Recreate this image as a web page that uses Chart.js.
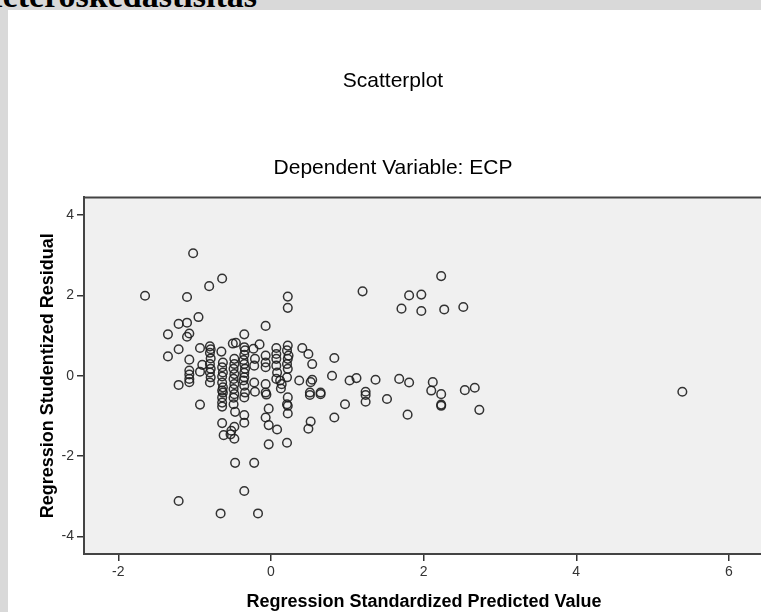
<!DOCTYPE html>
<html>
<head>
<meta charset="utf-8">
<script src="https://cdn.jsdelivr.net/npm/chart.js@4.4.1/dist/chart.umd.min.js"></script>
<style>
  html, body { margin: 0; padding: 0; width: 761px; height: 612px; overflow: hidden; background: #d9d9d9; position: relative; }
  #heading { position: absolute; right: 504px; top: -21px; font: bold 34px "Liberation Serif", "Times New Roman", serif; line-height: 34px; white-space: nowrap; color: #000; }
  #panel { position: absolute; left: 8px; top: 10px; width: 800px; height: 700px; background: #fff; }
  #c { position: absolute; left: 0; top: 0; }
</style>
</head>
<body>
<div id="heading">Hasil Uji Heteroskedastisitas</div>
<div id="panel"></div>
<canvas id="c" width="786" height="613"></canvas>
<script>
// Regression residual scatter (SPSS style)

const predicted = [
  -1.65, -1.02, -1.10, -0.81, -0.64, -0.95, -1.21, -1.10, -1.35, -1.10, -1.07, -0.35, -0.07, 0.22, 0.22, 1.20, 2.23, 1.81, 1.97, 1.71, 1.97, 2.27, 2.52,
  -1.21, -1.35, -1.07, -0.93, -1.21, -1.07, -1.07, -1.07, -1.07, -0.90, -0.93, -0.93,
  -0.80, -0.79, -0.80, -0.79, -0.80, -0.79, -0.80, -0.79, -0.80,
  -0.65, -0.63, -0.64, -0.63, -0.64, -0.64, -0.63, -0.64, -0.63, -0.64, -0.64, -0.64, -0.64, -0.62,
  -0.46, -0.50, -0.48, -0.48, -0.49, -0.48, -0.49, -0.48, -0.49, -0.48, -0.49, -0.49, -0.47, -0.48, -0.52, -0.53, -0.48, -0.47,
  -0.35, -0.34, -0.35, -0.36, -0.35, -0.34, -0.35, -0.35, -0.36, -0.35, -0.34, -0.35, -0.35, -0.35, -0.35,
  -0.23, -0.21, -0.22, -0.22, -0.21, -0.22, -0.15,
  -0.07, -0.07, -0.07, -0.07, -0.07, -0.06, -0.07, -0.03, -0.03, 0.08, -0.03,
  0.07, 0.07, 0.07, 0.07, 0.08, 0.07, 0.14, 0.12, 0.13,
  0.22, 0.21, 0.23, 0.22, 0.21, 0.22, 0.21, 0.22, 0.21, 0.22, 0.22, 0.21,
  -1.21, -0.66, -0.17,
  0.41, 0.49, 0.54, 0.83, 0.80, 0.37, 0.54, 0.52, 1.03, 1.12, 1.37, 0.51, 0.51, 0.65, 0.65, 0.52, 0.49, 0.83, 0.97, 1.24, 1.24, 1.24,
  1.52, 1.68, 1.81, 1.79, 2.12, 2.10, 2.23, 2.23, 2.23, 2.54, 2.67, 2.73, 5.39
];

const residual = [
  1.99, 3.05, 1.96, 2.23, 2.42, 1.46, 1.29, 1.32, 1.03, 0.97, 1.05, 1.03, 1.24, 1.97, 1.69, 2.10, 2.48, 2.00, 2.02, 1.67, 1.61, 1.65, 1.71,
  0.66, 0.48, 0.40, 0.69, -0.23, 0.13, 0.03, -0.08, -0.16, 0.27, 0.10, -0.72,
  0.73, 0.66, 0.57, 0.43, 0.29, 0.17, 0.08, -0.04, -0.17,
  0.60, 0.33, 0.21, 0.08, -0.02, -0.17, -0.29, -0.37, -0.42, -0.54, -0.67, -0.77, -1.18, -1.48,
  0.82, 0.80, 0.42, 0.29, 0.17, 0.04, -0.08, -0.21, -0.33, -0.46, -0.55, -0.71, -0.90, -1.27, -1.37, -1.46, -1.57, -2.17,
  0.71, 0.63, 0.52, 0.39, 0.29, 0.17, 0.07, -0.04, -0.12, -0.25, -0.42, -0.54, -0.98, -1.17, -2.87,
  0.67, 0.42, 0.25, -0.17, -0.40, -2.17, 0.78,
  0.50, 0.33, 0.21, -0.21, -0.42, -0.47, -1.04, -0.82, -1.23, -1.34, -1.71,
  0.69, 0.54, 0.42, 0.25, 0.08, -0.08, -0.21, -0.12, -0.32,
  0.75, 0.63, 0.50, 0.42, 0.29, 0.17, -0.04, -0.54, -0.71, -0.75, -0.94, -1.67,
  -3.12, -3.43, -3.43,
  0.69, 0.54, 0.29, 0.44, 0.00, -0.12, -0.10, -0.16, -0.12, -0.06, -0.10, -0.42, -0.48, -0.42, -0.46, -1.14, -1.32, -1.04, -0.71, -0.40, -0.48, -0.65,
  -0.58, -0.08, -0.17, -0.97, -0.16, -0.37, -0.46, -0.72, -0.75, -0.36, -0.30, -0.85, -0.40
];

const xTicks = [-2, 0, 2, 4, 6];
const yTicks = [-4, -2, 0, 2, 4];

const points = predicted.map((x, i) => ({ x, y: residual[i] }));

const sans = '"Liberation Sans", Arial, sans-serif';

// plot background and the top frame line
const frame = {
  id: 'frame',
  beforeDraw(chart) {
    const a = chart.chartArea, ctx = chart.ctx;
    ctx.save();
    ctx.fillStyle = '#f0f0f0';
    ctx.fillRect(a.left, a.top, a.right - a.left, a.bottom - a.top);
    ctx.restore();
  },
  afterDraw(chart) {
    const a = chart.chartArea, ctx = chart.ctx;
    ctx.save();
    ctx.strokeStyle = '#444';
    ctx.lineWidth = 2;
    ctx.beginPath();
    ctx.moveTo(a.left, a.top);
    ctx.lineTo(a.right + 2, a.top);
    ctx.stroke();
    ctx.restore();
  }
};

function axis(min, max, ticks, titleText, titlePad, fitFn) {
  return {
    type: 'linear',
    min, max,
    afterBuildTicks: s => { s.ticks = ticks.map(v => ({ value: v })); },
    afterFit: fitFn,
    ticks: { color: '#333', font: { family: sans, size: 14 }, padding: 3 },
    grid: { drawOnChartArea: false, tickLength: 7, color: '#333', lineWidth: 1.5 },
    border: { color: '#444', width: 2 },
    title: { display: true, text: titleText, color: '#000', font: { family: sans, size: 18, weight: 'bold' }, padding: titlePad }
  };
}

new Chart(document.getElementById('c'), {
  type: 'scatter',
  data: {
    datasets: [{
      data: points,
      pointRadius: 4.3,
      pointBorderWidth: 1.5,
      pointBorderColor: 'rgba(30,30,30,0.9)',
      pointBackgroundColor: 'rgba(0,0,0,0)'
    }]
  },
  plugins: [frame],
  options: {
    responsive: false,
    animation: false,
    devicePixelRatio: 1,
    layout: { padding: { left: 22, right: 22, top: 0, bottom: 0 } },
    plugins: {
      legend: { display: false },
      tooltip: { enabled: false },
      title: { display: true, text: 'Scatterplot', color: '#000', font: { family: sans, size: 21, weight: 'normal' }, padding: { top: 69, bottom: 0 } },
      subtitle: { display: true, text: 'Dependent Variable: ECP', color: '#000', font: { family: sans, size: 21, weight: 'normal' }, padding: { top: 61, bottom: 17 } }
    },
    scales: {
      x: axis(-2.45, 6.46, xTicks, 'Regression Standardized Predicted Value', { top: 0, bottom: 0 }, s => { s.height = 59; }),
      y: axis(-4.44, 4.44, yTicks, 'Regression Studentized Residual', { top: 15, bottom: 0 }, s => { s.width = 62; })
    }
  }
});
</script>
</body>
</html>
